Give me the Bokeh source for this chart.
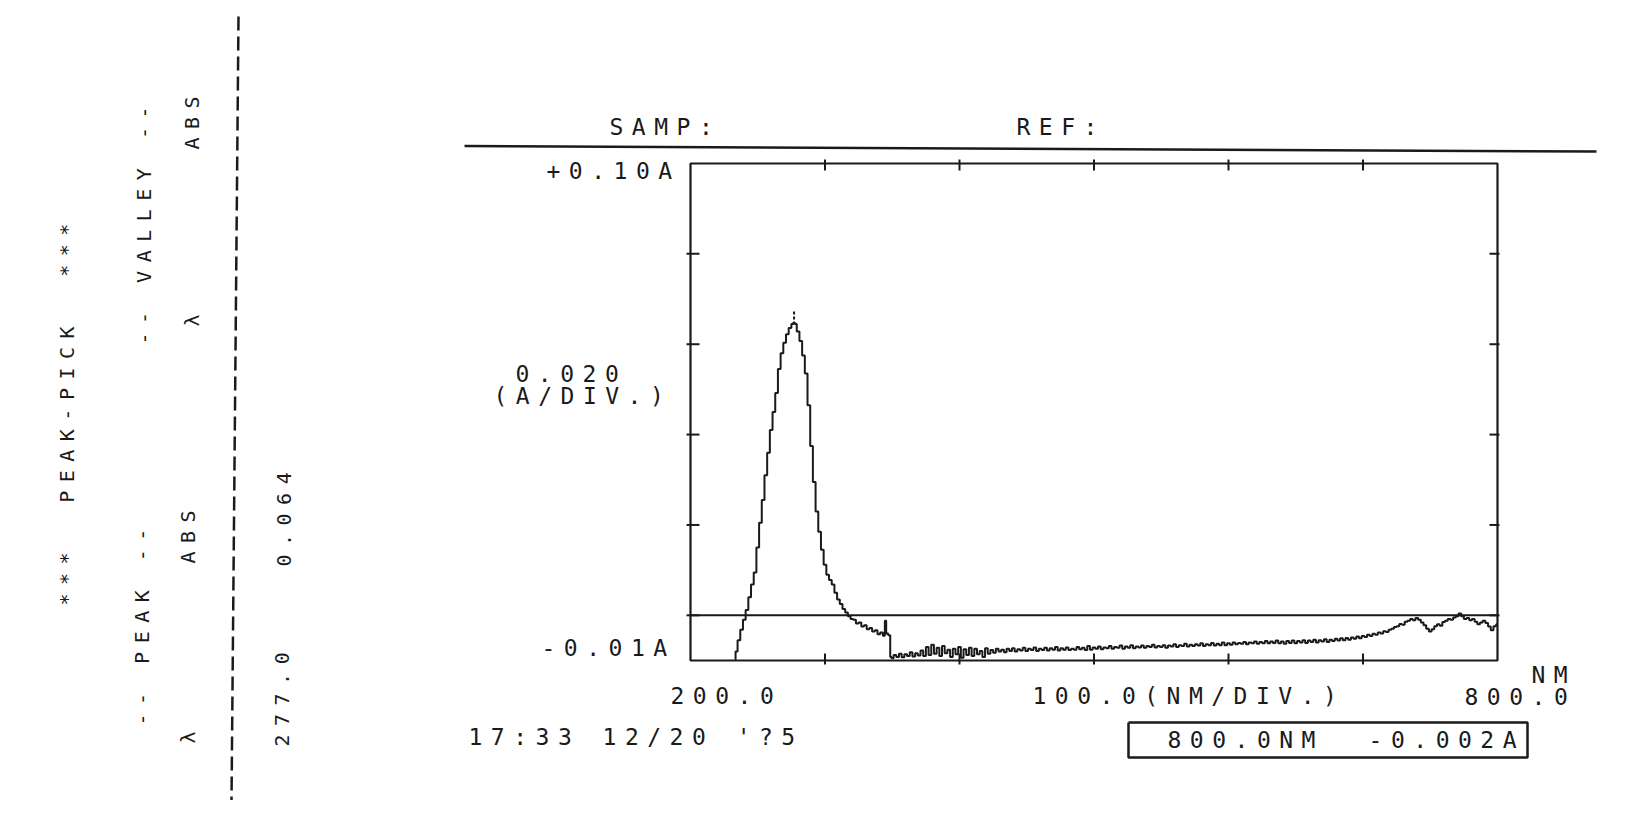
from bokeh.plotting import figure
from bokeh.models import Label, Range1d, InlineStyleSheet
from bokeh.embed import file_html
from bokeh.resources import INLINE

# ---------------- data ----------------
# UV-VIS scan, peak region (nm, absorbance)
peak_region_nm = [233, 234, 236, 238, 240, 242, 244, 246, 248, 250, 252, 254, 256, 258,
                  260, 262, 264, 266, 268, 270, 272, 274, 276, 277, 278, 280, 282, 284,
                  286, 288, 290, 292, 294, 296, 298, 300, 302, 304, 306, 308, 310, 312,
                  314, 316, 318, 320, 322, 324, 326, 328, 330, 332, 334, 336, 338, 340,
                  342, 344, 345, 346, 348, 349]
peak_region_abs = [-0.0098, -0.0080, -0.0055, -0.0032, -0.0010, 0.0012, 0.0040, 0.0068,
                   0.0095, 0.0150, 0.0205, 0.0255, 0.0310, 0.0360, 0.0410, 0.0450, 0.0492,
                   0.0545, 0.0580, 0.0603, 0.0622, 0.0636, 0.0645, 0.0648, 0.0645, 0.0628,
                   0.0607, 0.0575, 0.0535, 0.0465, 0.0375, 0.0295, 0.0230, 0.0185, 0.0145,
                   0.0112, 0.0090, 0.0078, 0.0068, 0.0050, 0.0035, 0.0025, 0.0014, 0.0006,
                   -0.0002, -0.0008, -0.0010, -0.0018, -0.0016, -0.0025, -0.0022, -0.0031,
                   -0.0028, -0.0036, -0.0033, -0.0042, -0.0038, -0.0045, -0.0012, -0.0040,
                   -0.0044, -0.0092]
# baseline after lamp change, sampled every 2 nm from 350 to 800 nm
baseline_nm = list(range(350, 801, 2))
baseline_abs = [
    -0.0095, -0.0088, -0.0092, -0.0085, -0.0093, -0.0086, -0.0090, -0.0082, -0.0091, -0.0084,
    -0.0089, -0.0078, -0.0090, -0.0070, -0.0088, -0.0065, -0.0085, -0.0072, -0.0090, -0.0068,
    -0.0084, -0.0076, -0.0092, -0.0074, -0.0086, -0.0070, -0.0094, -0.0075, -0.0088, -0.0072,
    -0.0090, -0.0074, -0.0086, -0.0079, -0.0092, -0.0073, -0.0085, -0.0077, -0.0083, -0.0074,
    -0.0080, -0.0076, -0.0082, -0.0074, -0.0079, -0.0073, -0.0080, -0.0075, -0.0078, -0.0072,
    -0.0079, -0.0074, -0.0077, -0.0071, -0.0079, -0.0074, -0.0077, -0.0072, -0.0078, -0.0073,
    -0.0076, -0.0070, -0.0078, -0.0073, -0.0076, -0.0071, -0.0077, -0.0074, -0.0076, -0.0070,
    -0.0075, -0.0072, -0.0077, -0.0068, -0.0076, -0.0071, -0.0074, -0.0069, -0.0075, -0.0071,
    -0.0073, -0.0068, -0.0074, -0.0070, -0.0072, -0.0067, -0.0074, -0.0069, -0.0072, -0.0066,
    -0.0073, -0.0069, -0.0071, -0.0067, -0.0072, -0.0068, -0.0070, -0.0065, -0.0071, -0.0068,
    -0.0070, -0.0066, -0.0072, -0.0067, -0.0069, -0.0064, -0.0070, -0.0066, -0.0068, -0.0063,
    -0.0069, -0.0065, -0.0068, -0.0064, -0.0067, -0.0062, -0.0068, -0.0064, -0.0066, -0.0061,
    -0.0067, -0.0063, -0.0066, -0.0060, -0.0066, -0.0062, -0.0065, -0.0060, -0.0064, -0.0061,
    -0.0063, -0.0059, -0.0064, -0.0060, -0.0062, -0.0058, -0.0063, -0.0059, -0.0062, -0.0057,
    -0.0062, -0.0058, -0.0061, -0.0056, -0.0062, -0.0058, -0.0063, -0.0057, -0.0061, -0.0056,
    -0.0062, -0.0057, -0.0060, -0.0055, -0.0061, -0.0056, -0.0059, -0.0054, -0.0060, -0.0055,
    -0.0058, -0.0053, -0.0059, -0.0054, -0.0057, -0.0052, -0.0056, -0.0051, -0.0055, -0.0050,
    -0.0054, -0.0049, -0.0052, -0.0047, -0.0051, -0.0046, -0.0048, -0.0043, -0.0046, -0.0041,
    -0.0043, -0.0038, -0.0040, -0.0035, -0.0037, -0.0032, -0.0030, -0.0026, -0.0024, -0.0019,
    -0.0021, -0.0014, -0.0012, -0.0008, -0.0011, -0.0006, -0.0010, -0.0016, -0.0022, -0.0030,
    -0.0036, -0.0031, -0.0024, -0.0020, -0.0023, -0.0015, -0.0012, -0.0008, -0.0010, -0.0005,
    -0.0002, 0.0004, -0.0002, -0.0008, -0.0006, -0.0011, -0.0008, -0.0014, -0.0020, -0.0016,
    -0.0012, -0.0017, -0.0025, -0.0033, -0.0024, -0.0020,
]
assert len(baseline_nm) == len(baseline_abs)
assert len(peak_region_nm) == len(peak_region_abs)

peak_nm = 277.0
peak_abs = 0.064
readout_nm = 800.0
readout_abs = -0.002

x_start, x_end, x_div = 200.0, 800.0, 100.0
y_start, y_end, y_div = -0.01, 0.10, 0.020
x_ticks = [300, 400, 500, 600, 700]
y_ticks = [0.0, 0.02, 0.04, 0.06, 0.08]
header_texts = ["SAMP:", "REF:"]
timestamp = "17:33 12/20 '?5"

wavelength = peak_region_nm + baseline_nm
absorbance = peak_region_abs + baseline_abs

# ---------------- layout (sheet pixels) ----------------
W, H = 1636, 800
FRAME_L, FRAME_R, FRAME_T, FRAME_B = 690, 1497, 163, 660
PX_X = (x_end - x_start) / (FRAME_R - FRAME_L)   # data units per pixel
PX_Y = (y_end - y_start) / (FRAME_B - FRAME_T)


def at_x(px):
    return x_start + (px - FRAME_L) * PX_X


def at_y(py):
    return y_start + (FRAME_B - py) * PX_Y


INK = "#1a1a1a"
FONT = "DejaVu Sans Mono"
SP2 = " \u00a0"   # two visible blanks (SVG collapses plain runs of spaces)

# the data frame covers the whole sheet; the chart box is drawn inside it
p = figure(width=W, height=H, output_backend="svg", toolbar_location=None,
           x_range=Range1d(at_x(0), at_x(W)), y_range=Range1d(at_y(H), at_y(0)),
           x_axis_location=None, y_axis_location=None,
           min_border=0, background_fill_color="white", border_fill_color="white",
           outline_line_color=None)
p.xgrid.visible = False
p.ygrid.visible = False
p.stylesheets = [InlineStyleSheet(css=":host { letter-spacing: 8.5px; }")]

# chart box
p.quad(left=[x_start], right=[x_end], bottom=[y_start], top=[y_end],
       fill_color=None, line_color=INK, line_width=2.2)
# zero-absorbance line
p.segment(x0=[x_start], y0=[0], x1=[x_end], y1=[0], line_color=INK, line_width=2)

# tick marks (crossing the box edges)
p.segment(x0=x_ticks, y0=[y_start - 4 * PX_Y] * len(x_ticks),
          x1=x_ticks, y1=[y_start + 7 * PX_Y] * len(x_ticks), line_color=INK, line_width=2)
p.segment(x0=x_ticks, y0=[y_end - 7 * PX_Y] * len(x_ticks),
          x1=x_ticks, y1=[y_end + 4 * PX_Y] * len(x_ticks), line_color=INK, line_width=2)
p.segment(x0=[x_start - 4 * PX_X] * len(y_ticks), y0=y_ticks,
          x1=[x_start + 9 * PX_X] * len(y_ticks), y1=y_ticks, line_color=INK, line_width=2)
p.segment(x0=[x_end - 8 * PX_X] * len(y_ticks), y0=y_ticks,
          x1=[x_end + 2 * PX_X] * len(y_ticks), y1=y_ticks, line_color=INK, line_width=2)

# spectrum (plotter staircase trace)
p.step(wavelength, absorbance, mode="center", line_color=INK, line_width=2)
# peak-pick marker
p.segment(x0=[peak_nm], y0=[peak_abs + 0.0015], x1=[peak_nm], y1=[peak_abs + 0.0034],
          line_color=INK, line_width=2, line_dash="3 2")

# rule under the header
p.line([at_x(464), at_x(1596)], [at_y(145.5), at_y(151)], line_color=INK, line_width=2.5)
# readout box
p.line([at_x(1128), at_x(1527), at_x(1527), at_x(1128), at_x(1128)],
       [at_y(722), at_y(722), at_y(757), at_y(757), at_y(722)],
       line_color=INK, line_width=2.5)
# dashed separator of the peak-pick table
p.line([at_x(238), at_x(231)], [at_y(16), at_y(801)], line_color=INK, line_width=2.5,
       line_dash="14 6")

TEXT_DY = 9   # baseline correction for the label box


def label(txt, px, py, size="23px", angle=0, baseline="alphabetic"):
    if angle == 0:
        py -= TEXT_DY
    p.add_layout(Label(x=at_x(px), y=at_y(py), text=txt, text_font=FONT,
                       text_font_size=size, text_color=INK, text_align="left",
                       text_baseline=baseline, angle=angle, angle_units="deg"))


# header
label(header_texts[0], 609, 135)
label(header_texts[1], 1016, 135)
# y-axis annotations
label(f"+{y_end:.2f}A", 546, 179)
label(f"{y_start:.2f}A", 541, 656)
label(f"{y_div:.3f}", 515, 382)
label("(A/DIV.)", 493, 404)
# x-axis annotations
label(f"{x_start:.1f}", 670, 704)
label(f"{x_div:.1f}(NM/DIV.)", 1032, 704)
label(f"{x_end:.1f}", 1464, 705)
label("NM", 1531, 683)
# footer
label(timestamp, 468, 745)
label(f"{readout_nm:.1f}NM{SP2}{readout_abs:.3f}A", 1167, 748)

# peak-pick table (rotated)
RS = "20px"
label(f"***{SP2}PEAK-PICK{SP2}***", 66, 605, RS, 90, "middle")
label("-- PEAK --", 141, 725, RS, 90, "middle")
label("-- VALLEY --", 143, 344, RS, 90, "middle")
label("\u03bb", 187, 743, RS, 90, "middle")
label("ABS", 187, 563, RS, 90, "middle")
label("\u03bb", 191, 326, RS, 90, "middle")
label("ABS", 191, 149, RS, 90, "middle")
label(f"{peak_nm:.1f}", 281, 746, RS, 90, "middle")
label(f"{peak_abs:.3f}", 283, 566, RS, 90, "middle")

open("out.html", "w").write(file_html(p, INLINE))
